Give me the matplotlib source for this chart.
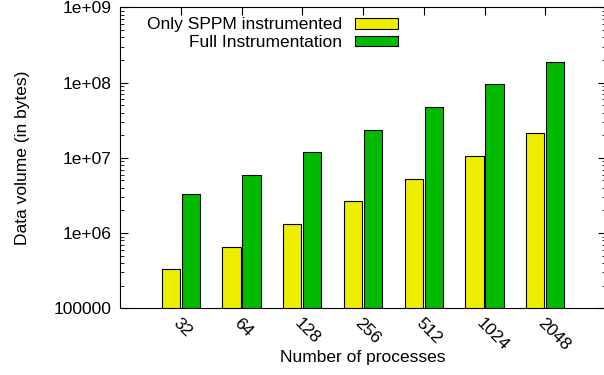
import matplotlib
matplotlib.use('Agg')
import matplotlib.pyplot as plt
import numpy as np

plt.rcParams['font.family'] = ['Liberation Sans', 'DejaVu Sans']
fontsize = 12.5

# data
procs = ['32', '64', '128', '256', '512', '1024', '2048']
sppm_only = [3.30e5, 6.59e5, 1.32e6, 2.65e6, 5.29e6, 1.06e7, 2.12e7]
full_instr = [3.28e6, 5.98e6, 1.19e7, 2.37e7, 4.75e7, 9.52e7, 1.90e8]

fig = plt.figure(figsize=(6.04, 3.75), dpi=100)
ax = fig.add_axes([120/604, 66.7/375, 486/604, 300.9/375])

x = np.arange(1, len(procs) + 1)
w = 0.3
ax.bar(x - 0.165, sppm_only, w, color='#eeee00', edgecolor='black', linewidth=0.8,
       label='Only SPPM instrumented')
ax.bar(x + 0.165, full_instr, w, color='#00bb00', edgecolor='black', linewidth=0.8,
       label='Full Instrumentation')

ax.set_yscale('log')
ax.set_ylim(1e5, 1e9)
ax.set_xlim(0, 8)

ax.set_yticks([1e5, 1e6, 1e7, 1e8, 1e9])
ax.set_yticklabels(['100000', '1e+06', '1e+07', '1e+08', '1e+09'], fontsize=fontsize)
ax.tick_params(axis='y', which='major', direction='in', length=6, right=True, width=0.8, pad=6)
ax.tick_params(axis='y', which='minor', direction='in', length=3, right=True, width=0.6)

ax.set_xticks(x)
ax.set_xticklabels(procs, fontsize=fontsize, rotation=-45, ha='left', va='top',
                   rotation_mode='anchor')
ax.tick_params(axis='x', direction='in', length=6, top=True, bottom=False, pad=5)

ax.set_xlabel('Number of processes', fontsize=fontsize, labelpad=-2)
ax.set_ylabel('Data volume (in bytes)', fontsize=fontsize, labelpad=17)

ax.legend(loc='upper right', bbox_to_anchor=(288/486, 1.0), frameon=False,
          markerfirst=False, fontsize=fontsize, handlelength=2.5, handleheight=0.57,
          labelspacing=0.15, handletextpad=0.7, borderaxespad=0.18)

fig.savefig('out.png', dpi=100)
